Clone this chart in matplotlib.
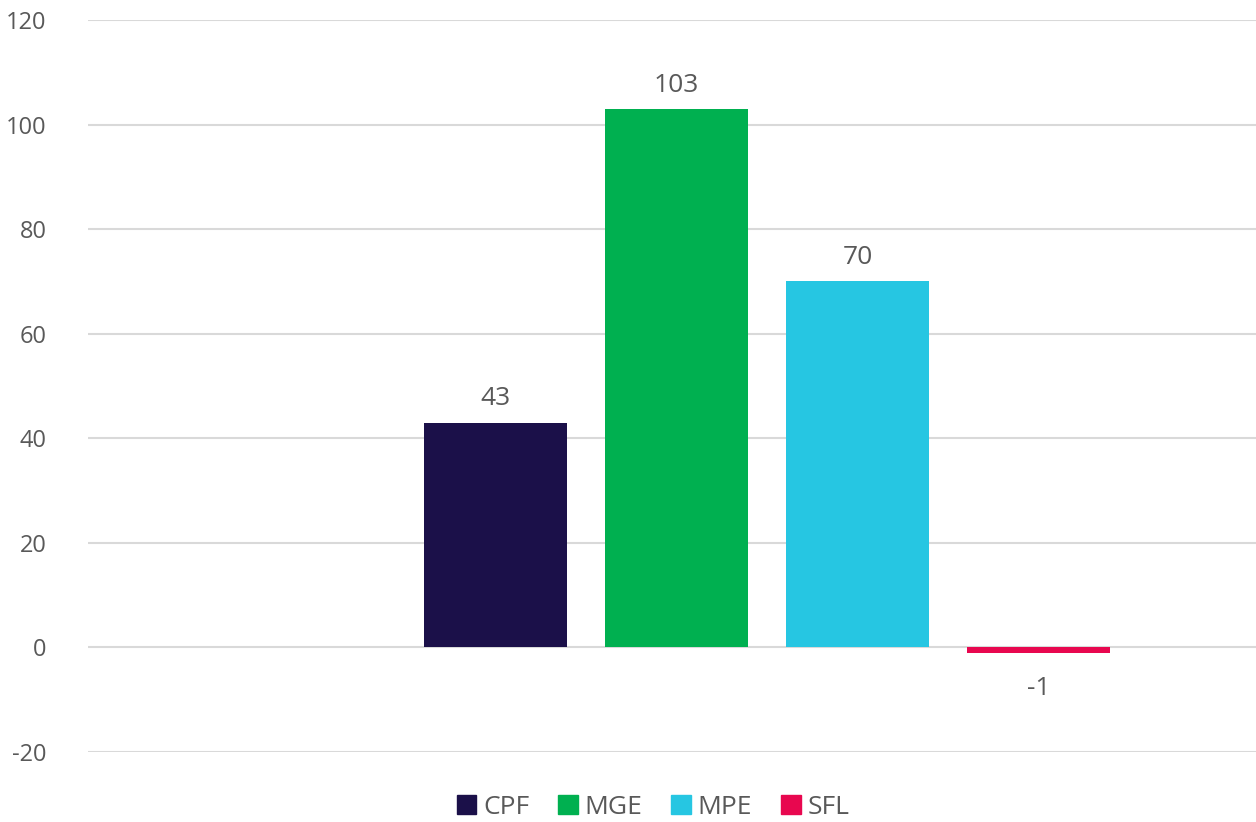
import matplotlib.pyplot as plt
from matplotlib.patches import Patch

# Values per series
series = ["CPF", "MGE", "MPE", "SFL"]
values = [43, 103, 70, -1]
colors = ["#1B1049", "#00B050", "#26C6E2", "#E8074F"]
yticks = [-20, 0, 20, 40, 60, 80, 100, 120]

plt.rcParams["font.family"] = ["Open Sans", "DejaVu Sans"]
plt.rcParams["axes.unicode_minus"] = False
text_color = "#595959"

fig = plt.figure(figsize=(12.56, 8.22), dpi=100)
ax = fig.add_axes([0.0701, 0.0852, 0.9299, 0.8905])

x = list(range(len(series)))
bars = ax.bar(x, values, width=0.79, color=colors, zorder=3)

for xi, v in zip(x, values):
    if v >= 0:
        ax.annotate(str(v), (xi, v), xytext=(0, 8), textcoords="offset points",
                    ha="center", va="bottom", fontsize=19, color=text_color)
    else:
        ax.annotate(str(v), (xi, v), xytext=(0, -17), textcoords="offset points",
                    ha="center", va="top", fontsize=19, color=text_color)

ax.set_xlim(-2.25, 4.2)
ax.set_ylim(-20, 120)
ax.set_yticks(yticks)
ax.set_yticklabels([str(t) for t in yticks])
ax.set_xticks([])
ax.yaxis.grid(True, color="#D9D9D9", linewidth=1.5, zorder=0)
for s in ax.spines.values():
    s.set_visible(False)
ax.tick_params(axis="y", length=0, pad=30, labelsize=17, labelcolor=text_color)

handles = [Patch(color=c, label=s) for s, c in zip(series, colors)]
fig.legend(handles=handles, loc="center", bbox_to_anchor=(0.52, 0.018), ncol=4,
           frameon=False, fontsize=19, handlelength=0.75, handleheight=0.75,
           handletextpad=0.25, columnspacing=1.1, labelcolor=text_color,
           borderpad=0.1)

fig.savefig("out.png", dpi=100)
